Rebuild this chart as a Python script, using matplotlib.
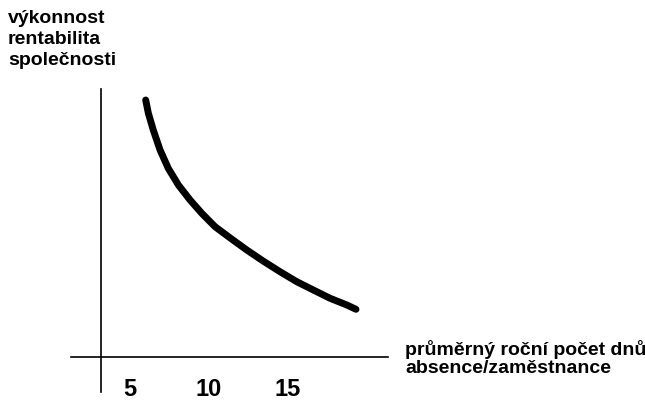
import matplotlib
matplotlib.use("Agg")
import matplotlib.pyplot as plt

# curve (x = days of absence, y = arbitrary performance units)
absence_days = [5.99, 6.16, 6.47, 6.90, 7.42, 8.06, 8.80, 9.54, 10.38, 11.40,
                12.39, 13.44, 14.49, 15.55, 16.60, 17.66, 18.72, 19.30]
performance = [25.67, 24.34, 22.67, 20.67, 18.84, 17.17, 15.67, 14.34, 13.00, 11.80,
               10.67, 9.55, 8.50, 7.50, 6.67, 5.84, 5.17, 4.74]
x_ticks = [5, 10, 15]
y_label = "výkonnost\nrentabilita\nspolečnosti"
x_label = "průměrný roční počet dnů\nabsence/zaměstnance"

plt.rcParams["font.family"] = ["Liberation Sans", "DejaVu Sans"]

fig = plt.figure(figsize=(6.45, 4.0), dpi=100)
ax = fig.add_axes([0, 0, 1, 1])
ax.patch.set_alpha(0)

ax.plot(absence_days, performance, color="black", linewidth=5,
        solid_capstyle="round", solid_joinstyle="round")

ax.set_xlim(-3.23, 37.59)
ax.set_ylim(-4.33, 35.67)

# axis lines: vertical at x~3.15, horizontal at y=0
for side in ("top", "right"):
    ax.spines[side].set_visible(False)
ax.spines["left"].set_position(("data", 3.15))
ax.spines["left"].set_bounds(-3.53, 26.77)
ax.spines["bottom"].set_position(("data", 0))
ax.spines["bottom"].set_bounds(1.27, 21.3)
for side in ("left", "bottom"):
    ax.spines[side].set_linewidth(1.2)
    ax.spines[side].set_color("black")

ax.set_yticks([])
ax.set_xticks(x_ticks)
ax.set_xticklabels([str(t) for t in x_ticks], fontsize=17, fontweight="bold")
ax.tick_params(axis="x", length=0, pad=15)

fig.text(8 / 645, 1 - 10 / 400, y_label, fontsize=14, fontweight="bold",
         va="top", ha="left", linespacing=1.3)
fig.text(405 / 645, 1 - 340 / 400, x_label, fontsize=14, fontweight="bold",
         va="top", ha="left", linespacing=1.1)

fig.savefig("out.png", dpi=100, facecolor="white")
